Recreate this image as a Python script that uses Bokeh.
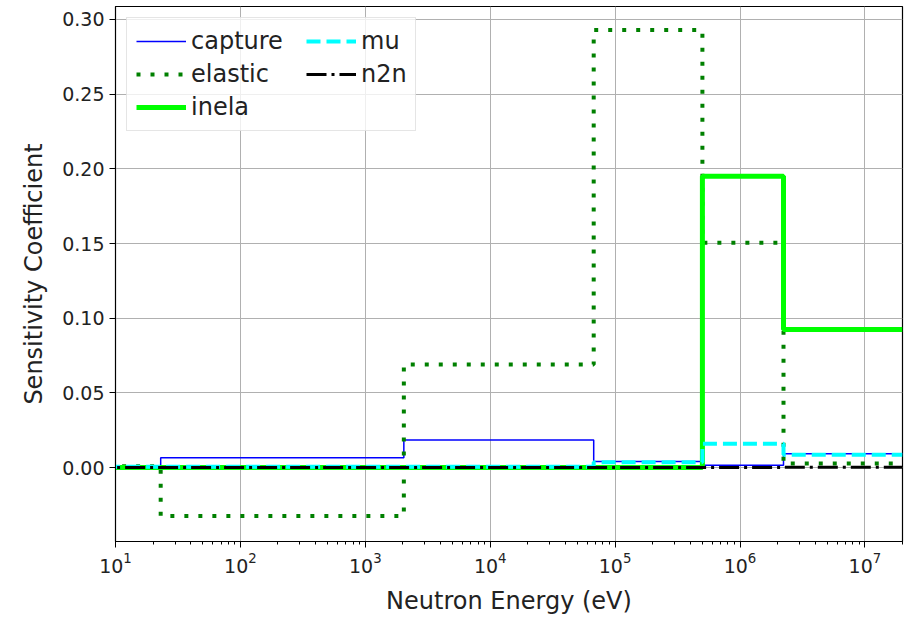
from bokeh.plotting import figure
from bokeh.models import Range1d, FixedTicker, NumeralTickFormatter, Legend, LegendItem
from bokeh.embed import file_html
from bokeh.resources import INLINE

# Group energy boundaries (eV), low to high
edges = [1e-5, 23.0, 2035.0, 67400.0, 5.0e5, 2.23e6, 2.0e7]

# Sensitivity coefficients per group (6 groups)
capture = [0.0, 0.0065, 0.0185, 0.0040, 0.0015, 0.0092]
elastic = [0.0008, -0.0325, 0.0690, 0.2930, 0.1505, 0.0028]
inela = [0.0, 0.0, 0.0, 0.0, 0.1950, 0.0925]
mu = [0.0005, 0.0005, 0.0005, 0.0035, 0.0160, 0.0085]
n2n = [0.0, 0.0, 0.0, 0.0, 0.0, 0.0002]

yticks = [0.00, 0.05, 0.10, 0.15, 0.20, 0.25, 0.30]

FONT = "DejaVu Sans"

p = figure(width=904, height=617, x_axis_type="log",
           x_range=Range1d(10, 2.0e7), y_range=Range1d(-0.0495, 0.3087),
           output_backend="svg", toolbar_location=None,
           min_border_left=115, min_border_right=2, min_border_top=6, min_border_bottom=69)

def stepy(vals):
    return list(vals) + [vals[-1]]

styles = [
    ("capture", capture, dict(line_color="#0000ff", line_width=1.5)),
    ("elastic", elastic, dict(line_color="#008000", line_width=4, line_dash="4 10")),
    ("inela", inela, dict(line_color="#00ff00", line_width=5)),
    ("mu", mu, dict(line_color="#00ffff", line_width=4, line_dash="14 6")),
    ("n2n", n2n, dict(line_color="black", line_width=3, line_dash="20 5 3 5")),
]

items = []
for name, vals, st in styles:
    r = p.step(x=edges, y=stepy(vals), mode="after", **st)
    items.append(LegendItem(label=name, renderers=[r]))

common = dict(label_text_font=FONT, label_text_font_size="24px",
              label_text_color="#222222", glyph_width=50, glyph_height=28,
              label_standoff=5, spacing=5, padding=9)

legend1 = Legend(items=items[:3], location="top_left", margin=11,
                 label_width=215,
                 border_line_color="#cccccc", border_line_width=1,
                 background_fill_alpha=0.8, **common)
legend2 = Legend(items=items[3:], location=(191, 453), margin=0,
                 border_line_color=None, background_fill_alpha=0.0, **common)
p.add_layout(legend1, "center")
p.add_layout(legend2, "center")

p.yaxis.ticker = FixedTicker(ticks=yticks)
p.yaxis.formatter = NumeralTickFormatter(format="0.00")
p.xaxis.ticker.num_minor_ticks = 10

for ax in (p.xaxis, p.yaxis):
    ax.major_label_text_font = FONT
    ax.major_label_text_font_size = "19px"
    ax.major_label_text_color = "#222222"
    ax.axis_label_text_font = FONT
    ax.axis_label_text_font_size = "24px"
    ax.axis_label_text_font_style = "normal"
    ax.axis_label_text_color = "#222222"
    ax.axis_line_color = "black"
    ax.major_tick_line_color = "black"
    ax.minor_tick_line_color = "black"
    ax.major_tick_in = 0
    ax.major_tick_out = 6
    ax.minor_tick_in = 0
    ax.minor_tick_out = 3
p.yaxis.minor_tick_line_color = None
p.xaxis.major_label_standoff = 4
p.xaxis.axis_label_standoff = 11
p.yaxis.axis_label_standoff = 11

p.xaxis.axis_label = "Neutron Energy (eV)"
p.yaxis.axis_label = "Sensitivity Coefficient"

p.xgrid.grid_line_color = "#b0b0b0"
p.ygrid.grid_line_color = "#b0b0b0"
p.xgrid.grid_line_width = 1
p.ygrid.grid_line_width = 1
p.outline_line_color = "black"
p.outline_line_width = 1.2

open("out.html", "w").write(file_html(p, INLINE))
